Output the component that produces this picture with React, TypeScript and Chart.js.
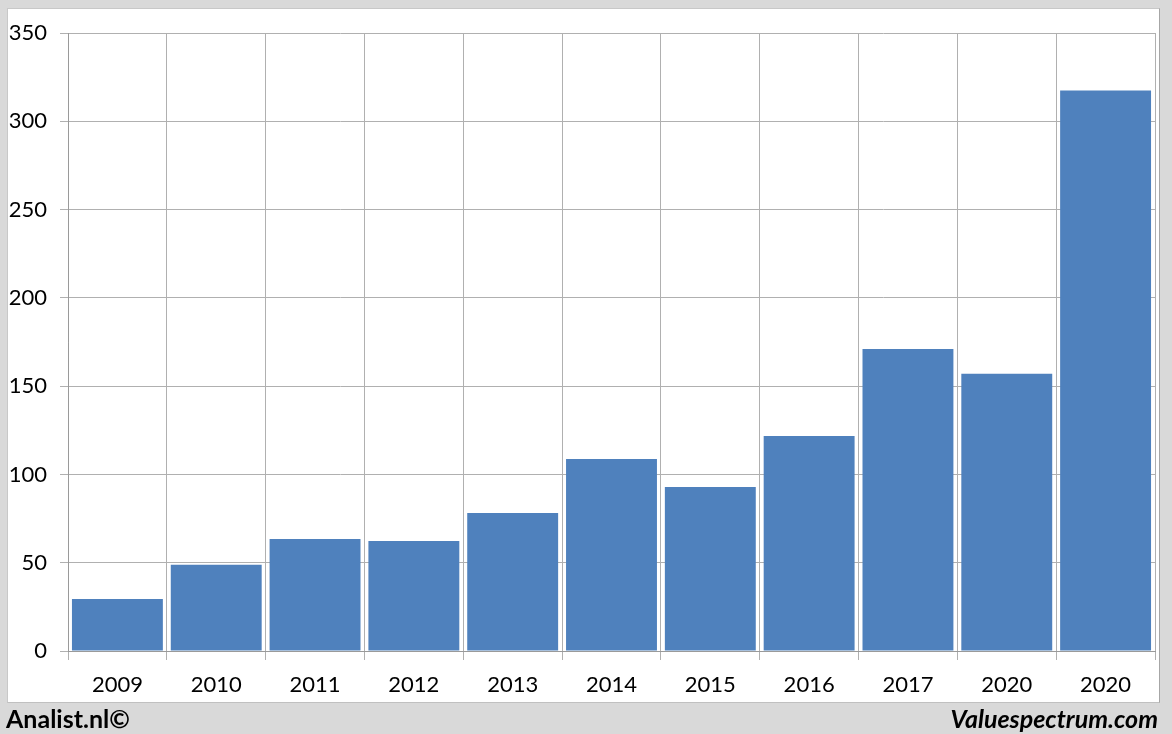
import React, { useEffect, useRef } from "react";
import { Chart, registerables } from "chart.js";

Chart.register(...registerables);

const categories = ["2009", "2010", "2011", "2012", "2013", "2014", "2015", "2016", "2017", "2020", "2020"];
const values = [29.5, 48.8, 63.5, 62.3, 78.2, 108.7, 92.9, 121.7, 171, 157, 317.5];
const yTicks = [0, 50, 100, 150, 200, 250, 300, 350];

export default function App() {
  const ref = useRef<HTMLCanvasElement | null>(null);

  useEffect(() => {
    if (!ref.current) return;
    const chart = new Chart(ref.current, {
      type: "bar",
      data: {
        labels: categories,
        datasets: [
          {
            data: values,
            backgroundColor: "#4f81bd",
            borderWidth: 0,
            barPercentage: 0.92,
            categoryPercentage: 1,
          },
        ],
      },
      options: {
        animation: false,
        responsive: false,
        maintainAspectRatio: false,
        layout: { padding: { top: 33, right: 17, bottom: 33, left: 0 } },
        plugins: { legend: { display: false }, tooltip: { enabled: false } },
        scales: {
          x: {
            offset: true,
            grid: {
              offset: true,
              color: "#b0b0b0",
              lineWidth: 1,
              tickLength: 9,
              drawTicks: true,
            },
            border: { color: "#9a9a9a" },
            ticks: {
              color: "#000",
              font: { family: "Lato", size: 22 },
              padding: 12,
              maxRotation: 0,
              autoSkip: false,
            },
            afterFit: (s: any) => {
              s.height = 50;
            },
          },
          y: {
            min: 0,
            max: 350,
            afterBuildTicks: (s: any) => {
              s.ticks = yTicks.map((v) => ({ value: v }));
            },
            grid: { color: "#b0b0b0", lineWidth: 1, tickLength: 8 },
            border: { color: "#9a9a9a" },
            ticks: {
              color: "#000",
              font: { family: "Lato", size: 22 },
              padding: 13,
            },
            afterFit: (s: any) => {
              s.width = 68;
            },
          },
        },
      },
    });
    return () => chart.destroy();
  }, []);

  return (
    <div
      style={{
        position: "absolute",
        left: 0,
        top: 0,
        width: 1172,
        height: 734,
        background: "#d9d9d9",
        overflow: "hidden",
      }}
    >
      <div
        style={{
          position: "absolute",
          left: 7,
          top: 8,
          width: 1153,
          height: 695,
          background: "#fff",
          boxSizing: "border-box",
          borderRight: "1px solid #a6a6a6",
          borderBottom: "1px solid #c0c0c0",
          borderLeft: "1px solid #c8c8c8",
          borderTop: "1px solid #c8c8c8",
        }}
      />
      <canvas
        ref={ref}
        width={1172}
        height={734}
        style={{ position: "absolute", left: 0, top: 0, width: 1172, height: 734 }}
      />
      <div
        style={{
          position: "absolute",
          left: 6,
          top: 703,
          fontFamily: "Lato",
          fontWeight: 700,
          fontSize: 25,
          color: "#000",
          lineHeight: "30px",
        }}
      >
        Analist.nl©
      </div>
      <div
        style={{
          position: "absolute",
          right: 14,
          top: 703,
          fontFamily: "Lato",
          fontWeight: 700,
          fontStyle: "italic",
          fontSize: 25,
          color: "#000",
          lineHeight: "30px",
        }}
      >
        Valuespectrum.com
      </div>
    </div>
  );
}
